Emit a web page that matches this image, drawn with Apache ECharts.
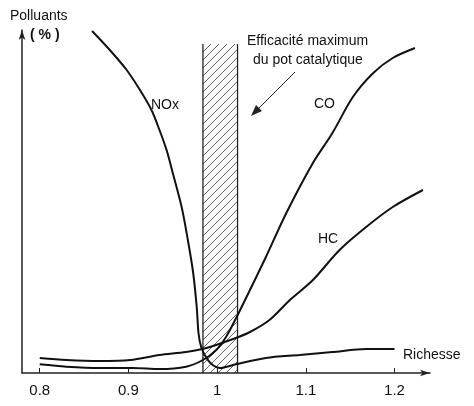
<!DOCTYPE html><html><head><meta charset="utf-8"><script src="https://cdn.jsdelivr.net/npm/echarts@6/dist/echarts.min.js"></script>
<style>html,body{margin:0;padding:0;background:#fff}#c{width:474px;height:406px}</style></head><body><div id="c"></div>
<script>
const xTicks=[0.8,0.9,1.0,1.1,1.2];
const band=[0.984,1.023];
const nox=[[0.859,342],[0.879,323],[0.898,303],[0.913,283],[0.926,263],[0.935,243],[0.943,223],[0.950,200],[0.960,166],[0.967,133],[0.973,100],[0.977,66],[0.979,40],[0.982,26],[0.988,15],[0.995,8],[1.003,5],[1.018,8],[1.055,15],[1.093,18],[1.130,21],[1.168,24],[1.200,24]];
const co=[[0.8,8.7],[0.830,6.3],[0.868,5],[0.905,5],[0.935,4],[0.965,6.3],[0.984,13],[0.999,23],[1.010,36],[1.022,56],[1.037,83],[1.055,116],[1.078,160],[1.108,210],[1.130,240],[1.153,276],[1.176,300],[1.198,315],[1.223,325]];
const hc=[[0.8,15],[0.830,13],[0.868,12],[0.902,13],[0.935,18],[0.965,21],[0.988,25],[1.018,34],[1.037,41],[1.059,53],[1.082,73],[1.108,93],[1.138,123],[1.168,146],[1.198,166],[1.232,183]];
const F='"Liberation Sans",Arial,sans-serif';
const ch=echarts.init(document.getElementById('c'));
const line=(d)=>({type:'line',data:d,smooth:0.3,symbol:'none',lineStyle:{color:'#111',width:2},z:3});
ch.setOption({
 animation:false,
 grid:{left:22,right:44,top:30,bottom:33},
 xAxis:{type:'value',min:0.78,max:1.24,
  axisLine:{lineStyle:{color:'#222',width:1.5},symbol:['none','arrow'],symbolSize:[5,10]},
  axisTick:{inside:true,length:5,customValues:xTicks,lineStyle:{color:'#222'}},
  axisLabel:{customValues:xTicks,color:'#111',fontFamily:F,fontSize:15,margin:10,formatter:v=>String(+v.toFixed(1))},
  splitLine:{show:false}},
 yAxis:{type:'value',min:0,max:343,
  axisLine:{show:true,lineStyle:{color:'#222',width:1.5},symbol:['none','arrow'],symbolSize:[5,10]},
  axisTick:{show:false},axisLabel:{show:false},splitLine:{show:false}},
 series:[
  {type:'custom',z:1,data:[[band[0],band[1]]],renderItem:(p,api)=>{
    const a=api.coord([band[0],329]),b=api.coord([band[1],0]);
    const L=a[0],T=a[1],R=b[0],B=b[1];const ch=[];
    for(let c=L+T;c<=R+B;c+=8){const x1=Math.max(L,c-B),x2=Math.min(R,c-T);if(x2<=x1)continue;
      ch.push({type:'line',shape:{x1:x1,y1:c-x1,x2:x2,y2:c-x2},style:{stroke:'#333',lineWidth:0.8}});}
    ch.push({type:'line',shape:{x1:L,y1:T,x2:L,y2:B},style:{stroke:'#222',lineWidth:1.3}});
    ch.push({type:'line',shape:{x1:R,y1:T,x2:R,y2:B},style:{stroke:'#222',lineWidth:1.3}});
    return {type:'group',children:ch};}},
  line(nox),line(co),line(hc)
 ],
 graphic:[
  {type:'text',left:10,top:9,style:{text:'Polluants',font:'14px '+F,fill:'#111'}},
  {type:'text',left:30,top:28,style:{text:'( % )',font:'bold 14px '+F,fill:'#111'}},
  {type:'text',left:403,top:348,style:{text:'Richesse',font:'14px '+F,fill:'#111'}},
  {type:'text',left:151,top:98,style:{text:'NOx',font:'14px '+F,fill:'#111'}},
  {type:'text',left:314,top:97,style:{text:'CO',font:'14px '+F,fill:'#111'}},
  {type:'text',left:318,top:232,style:{text:'HC',font:'14px '+F,fill:'#111'}},
  {type:'text',left:247,top:34,style:{text:'Efficacité maximum',font:'14px '+F,fill:'#111'}},
  {type:'text',left:253,top:53,style:{text:'du pot catalytique',font:'14px '+F,fill:'#111'}},
  {type:'line',shape:{x1:295,y1:72,x2:254,y2:113},style:{stroke:'#222',lineWidth:1}},
  {type:'polygon',shape:{points:[[251,116],[256,105],[262,111]]},style:{fill:'#222'}}
 ]
});
</script></body></html>
